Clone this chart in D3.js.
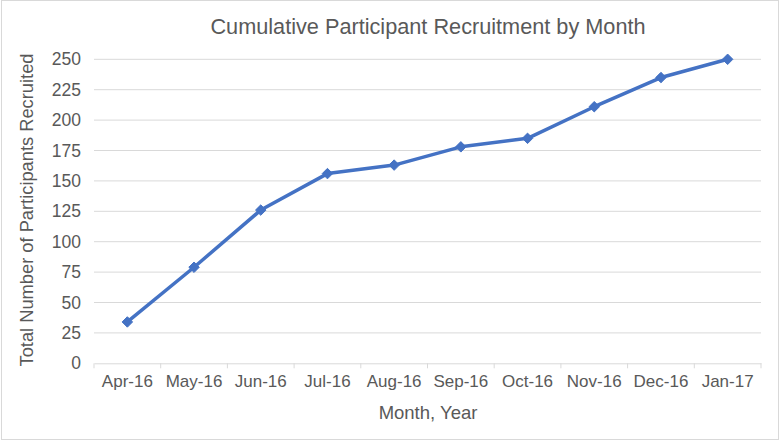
<!DOCTYPE html>
<html><head><meta charset="utf-8">
<script src="https://cdn.jsdelivr.net/npm/d3@7"></script>
<style>body{margin:0;background:#fff}svg{display:block}text{font-family:"Liberation Sans",Arial,sans-serif}</style>
</head><body><svg id="c" width="780" height="441"></svg>
<script>
const months = ["Apr-16","May-16","Jun-16","Jul-16","Aug-16","Sep-16","Oct-16","Nov-16","Dec-16","Jan-17"];
const recruited = [34,79,126,156,163,178,185,211,235,250];
const yTicks = [0,25,50,75,100,125,150,175,200,225,250];
const titleText = "Cumulative Participant Recruitment by Month";
const xTitle = "Month, Year";
const yTitle = "Total Number of Participants Recruited";

const svg = d3.select("#c");
const m = {left:94, right:761, top:59.3, bottom:363.3};
svg.append("rect").attr("x",1.5).attr("y",0.5).attr("width",777).attr("height",439).attr("fill","#fff").attr("stroke","#d9d9d9");

const x = d3.scaleBand().domain(months).range([m.left,m.right]);
const y = d3.scaleLinear().domain([0,250]).range([m.bottom,m.top]);

const grid = svg.append("g");
grid.selectAll("line").data(yTicks.filter(d=>d>0)).join("line")
  .attr("x1",m.left).attr("x2",m.right).attr("y1",d=>y(d)).attr("y2",d=>y(d))
  .attr("stroke","#d9d9d9").attr("stroke-width",1);

const yAxis = svg.append("g").attr("transform",`translate(${m.left},0)`)
  .call(d3.axisLeft(y).tickValues(yTicks).tickSize(0).tickPadding(13));
yAxis.select(".domain").remove();
yAxis.selectAll("text").attr("fill","#595959").style("font-size","17.5px");

const xAxis = svg.append("g").attr("transform",`translate(0,${m.bottom})`)
  .call(d3.axisBottom(x).tickSize(0).tickPadding(12));
xAxis.select(".domain").attr("stroke","#d9d9d9");
xAxis.selectAll("text").attr("fill","#595959").style("font-size","17px");
const edges = months.map(d=>x(d)).concat([m.right]);
xAxis.selectAll("line.edge").data(edges).join("line").attr("class","edge")
  .attr("x1",d=>d).attr("x2",d=>d).attr("y1",0).attr("y2",5).attr("stroke","#d9d9d9");

const line = d3.line().x((d,i)=>x(months[i])+x.bandwidth()/2).y(d=>y(d));
svg.append("path").datum(recruited).attr("d",line).attr("fill","none")
  .attr("stroke","#4472C4").attr("stroke-width",3.5).attr("stroke-linejoin","round");
svg.selectAll("path.mk").data(recruited).join("path").attr("class","mk")
  .attr("transform",(d,i)=>`translate(${x(months[i])+x.bandwidth()/2},${y(d)})`)
  .attr("d",d3.symbol(d3.symbolDiamond2,70)())
  .attr("fill","#4472C4").attr("stroke","#4472C4").attr("stroke-width",1);

svg.append("text").attr("x",428).attr("y",34).attr("text-anchor","middle")
  .attr("fill","#595959").style("font-size","21.7px").text(titleText);
svg.append("text").attr("x",428).attr("y",419).attr("text-anchor","middle")
  .attr("fill","#595959").style("font-size","18.5px").text(xTitle);
svg.append("text").attr("transform",`translate(33,210) rotate(-90)`).attr("text-anchor","middle")
  .attr("fill","#595959").style("font-size","18.3px").text(yTitle);
</script></body></html>
